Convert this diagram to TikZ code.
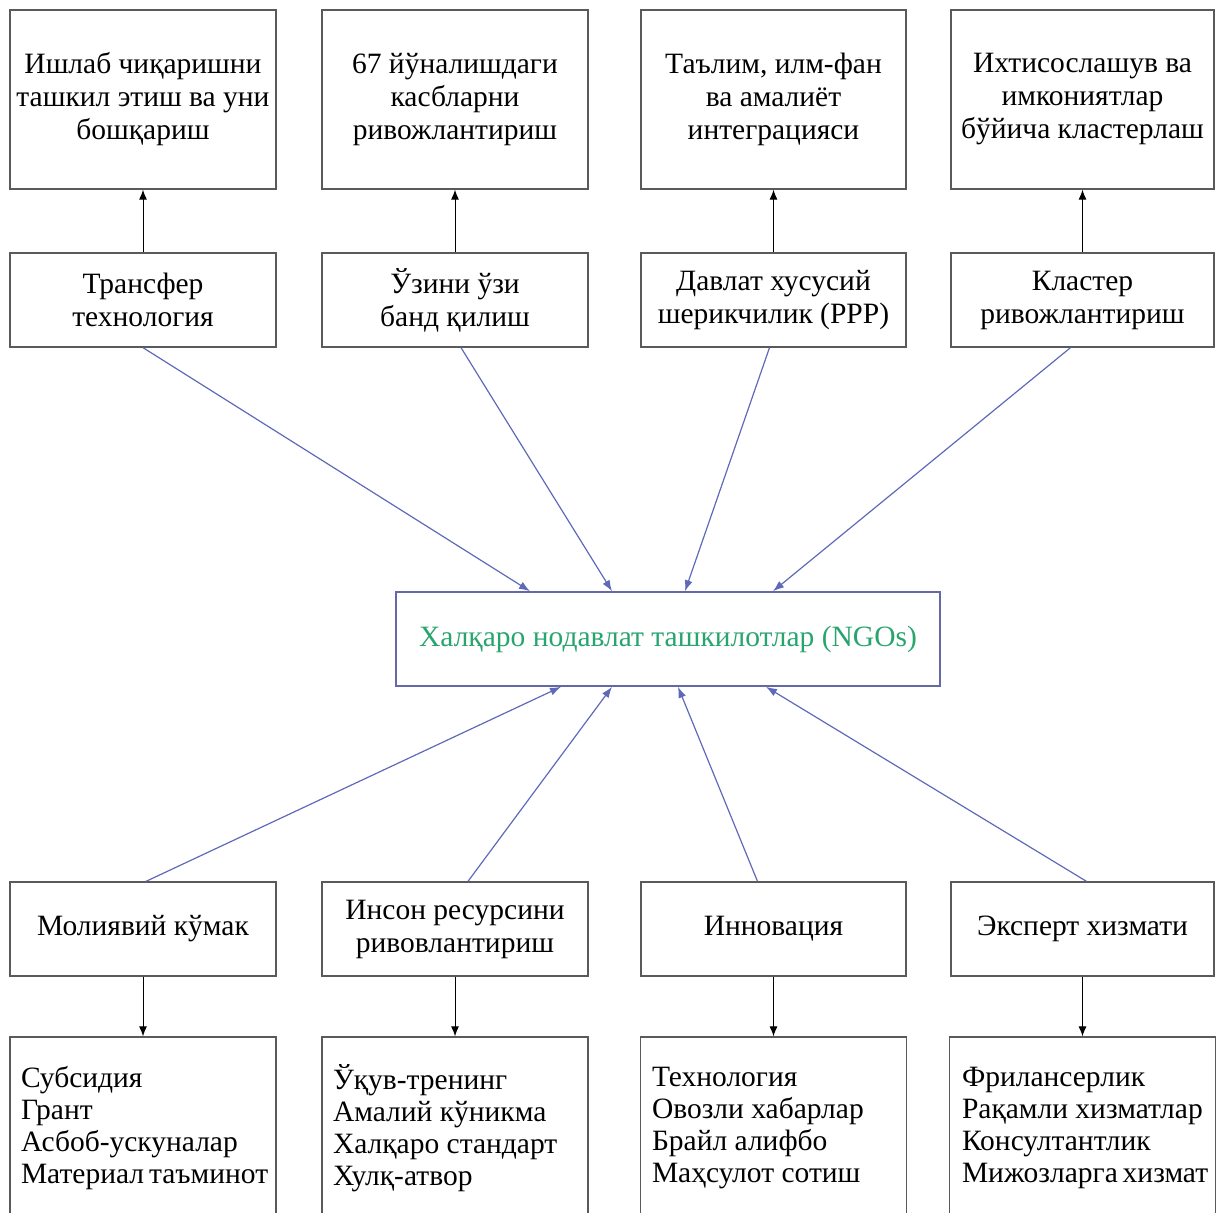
\documentclass[tikz,border=0pt]{standalone}
\usepackage{fontspec}
\setmainfont{Liberation Serif}
\usetikzlibrary{arrows.meta}
\definecolor{boxgray}{RGB}{90,90,90}
\definecolor{linkblue}{RGB}{95,105,185}
\definecolor{ngoframe}{RGB}{100,105,165}
\definecolor{ngogreen}{RGB}{40,165,110}

\begin{document}
\begin{tikzpicture}[x=1pt,y=-1pt,
  box/.style={draw=boxgray,line width=1.3pt,minimum width=266pt,inner sep=0pt,align=center,font=\fontsize{29.5}{33}\selectfont},
  listbox/.style={box,text width=244pt,inner xsep=11pt,align=flush left,minimum height=182pt,font=\fontsize{29.5}{32}\selectfont},
  up/.style={-{Latex[length=10pt,width=8pt]},line width=1pt},
  link/.style={draw=linkblue,line width=1.2pt,-{Latex[length=11pt,width=8pt]}}]

\clip (0,0) rectangle (1216,1213);

\node[box,minimum height=179pt] (tr1) at (143,99.5) {Ишлаб чиқаришни\\ташкил этиш ва уни\\бошқариш};
\node[box,minimum height=179pt] (tr2) at (455,99.5) {67 йўналишдаги\\касбларни\\ривожлантириш};
\node[box,minimum height=179pt,minimum width=265pt] (tr3) at (773.5,99.5) {Таълим, илм-фан\\ва амалиёт\\интеграцияси};
\node[box,minimum height=179pt,minimum width=263pt] (tr4) at (1082.5,99.5) {Ихтисослашув ва\\имкониятлар\\бўйича кластерлаш};

\node[box,minimum height=94pt] (mid1) at (143,300) {Трансфер\\технология};
\node[box,minimum height=94pt] (mid2) at (455,300) {Ўзини ўзи\\банд қилиш};
\node[box,minimum height=94pt,minimum width=265pt] (mid3) at (773.5,300) {Давлат хусусий\\шерикчилик (PPP)};
\node[box,minimum height=94pt,minimum width=263pt] (mid4) at (1082.5,300) {Кластер\\ривожлантириш};

\node[box,draw=ngoframe,line width=1.6pt,minimum width=544pt,minimum height=94pt,text=ngogreen] (ngo) at (668,639) {Халқаро нодавлат ташкилотлар (NGOs)};

\node[box,minimum height=94pt] (bot1) at (143,929) {Молиявий кўмак};
\node[box,minimum height=94pt] (bot2) at (455,929) {Инсон ресурсини\\ривовлантириш};
\node[box,minimum height=94pt,minimum width=265pt] (bot3) at (773.5,929) {Инновация};
\node[box,minimum height=94pt,minimum width=263pt] (bot4) at (1082.5,929) {Эксперт хизмати};

\node[listbox] (list1) at (143,1128) {Субсидия\\Грант\\Асбоб-ускуналар\\Материал~таъминот};
\node[listbox] (list2) at (455,1128) {Ўқув-тренинг\\Амалий~кўникма\\Халқаро~стандарт\\Хулқ-атвор};
\node[listbox,text width=243pt] (list3) at (773.5,1128) {Технология\\Овозли~хабарлар\\Брайл~алифбо\\Маҳсулот~сотиш};
\node[listbox,text width=241pt] (list4) at (1082.5,1128) {Фрилансерлик\\Рақамли~хизматлар\\Консултантлик\\Мижозларга~хизмат};

\draw[up] (mid1) -- (tr1);
\draw[up] (mid2) -- (tr2);
\draw[up] (mid3) -- (tr3);
\draw[up] (mid4) -- (tr4);

\draw[link] (mid1.south) -- ([xshift=-138pt]ngo.north);
\draw[link] ([xshift=6pt]mid2.south) -- ([xshift=-56pt]ngo.north);
\draw[link] ([xshift=-4pt]mid3.south) -- ([xshift=17pt]ngo.north);
\draw[link] ([xshift=-12pt]mid4.south) -- ([xshift=105pt]ngo.north);

\draw[link] ([xshift=3pt]bot1.north) -- ([xshift=-107pt]ngo.south);
\draw[link] ([xshift=13pt]bot2.north) -- ([xshift=-56pt]ngo.south);
\draw[link] ([xshift=-16pt]bot3.north) -- ([xshift=10pt]ngo.south);
\draw[link] ([xshift=4pt]bot4.north) -- ([xshift=98pt]ngo.south);

\draw[up] (bot1) -- (list1);
\draw[up] (bot2) -- (list2);
\draw[up] (bot3) -- (list3);
\draw[up] (bot4) -- (list4);

\end{tikzpicture}
\end{document}
